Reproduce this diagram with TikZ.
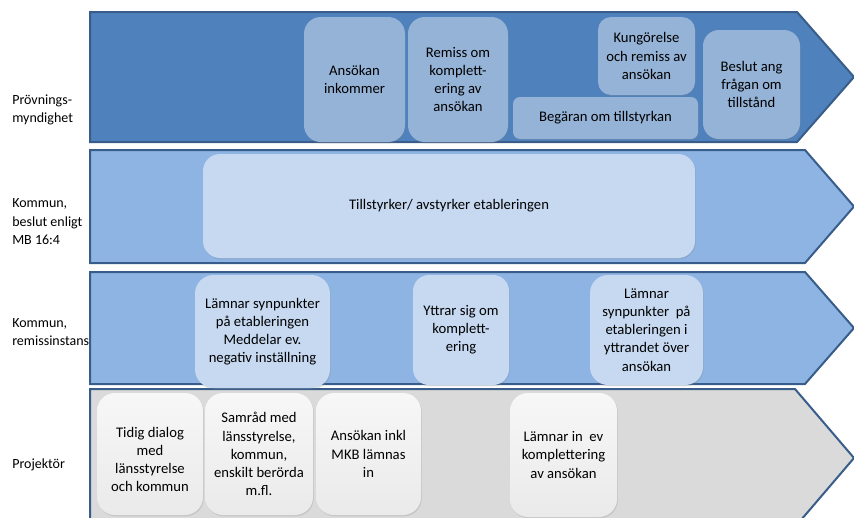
\documentclass[tikz,border=0pt]{standalone}
\usepackage{fontspec}
\setmainfont{Carlito}
\usetikzlibrary{shadows}
\definecolor{edgeblue}{HTML}{385D8A}
\definecolor{lanedark}{HTML}{4F81BD}
\definecolor{lanelight}{HTML}{8EB4E3}
\definecolor{lanegray}{HTML}{DADADA}
\definecolor{boxdark}{HTML}{95B3D7}
\definecolor{boxlight}{HTML}{C6D9F1}
\definecolor{boxgraytop}{HTML}{F7F7F7}
\definecolor{boxgraybot}{HTML}{EAEAEA}
\begin{document}
\begin{tikzpicture}[x=0.75pt,y=-0.75pt,
  lane/.style={draw=edgeblue, line width=1.5pt, line join=miter},
  stepbox/.style={align=center, inner sep=2pt, text=black,
    font=\fontsize{11}{13.6}\selectfont,
    drop shadow={opacity=0.22, shadow xshift=0.6pt, shadow yshift=-1pt}},
  darkbox/.style={stepbox, fill=boxdark},
  lightbox/.style={stepbox, fill=boxlight},
  graybox/.style={stepbox, top color=boxgraytop, bottom color=boxgraybot},
  lanelabel/.style={anchor=west, align=left, inner sep=0pt,
    font=\fontsize{10.5}{13.9}\selectfont}]
\useasboundingbox (0,0) rectangle (854,518);
\clip (0,0) rectangle (854,518);

% lanes
\draw[lane, fill=lanedark]  (90,12)  -- (797,12)  -- (854,77)    -- (797,142) -- (90,142) -- cycle;
\draw[lane, fill=lanelight] (90,150) -- (805,150) -- (854,206.5) -- (805,263) -- (90,263) -- cycle;
\draw[lane, fill=lanelight] (90,272) -- (805,272) -- (854,328)   -- (805,384) -- (90,384) -- cycle;
\draw[lane, fill=lanegray]  (90,389) -- (795,389) -- (854,458)   -- (795,527) -- (90,527) -- cycle;

% lane labels
\node[lanelabel] (l1) at (12,110) {Prövnings-\\myndighet};
\node[lanelabel] (l2) at (12,222) {Kommun,\\beslut enligt\\MB 16:4};
\node[lanelabel] (l3) at (12,332) {Kommun,\\remissinstans};
\node[lanelabel] (l4) at (12,465) {Projektör};

% row 1
\node[darkbox, minimum width=75.75pt, minimum height=93.75pt, rounded corners=12.6pt] (a1) at (354.5,79.5) {Ansökan\\inkommer};
\node[darkbox, minimum width=75pt, minimum height=93.75pt, rounded corners=12.5pt] (a2) at (458,79.5) {Remiss om\\komplett-\\ering av\\ansökan};
\node[darkbox, minimum width=72.75pt, minimum height=58.5pt, rounded corners=9.75pt] (a3) at (646.5,56) {Kungörelse\\och remiss av\\ansökan};
\node[darkbox, minimum width=138.75pt, minimum height=31.5pt, rounded corners=5.25pt] (a4) at (605.5,118) {Begäran om tillstyrkan};
\node[darkbox, minimum width=72.75pt, minimum height=81.75pt, rounded corners=12pt] (a5) at (751.5,84.5) {Beslut ang\\frågan om\\tillstånd};

% row 2
\node[lightbox, minimum width=369pt, minimum height=78pt, rounded corners=12.75pt] (b1) at (449,206) {Tillstyrker/ avstyrker etableringen};

% row 3
\node[lightbox, minimum width=101.25pt, minimum height=84.75pt, rounded corners=14pt] (c1) at (262.5,331.5) {Lämnar synpunkter\\på etableringen\\Meddelar ev.\\negativ inställning};
\node[lightbox, minimum width=72pt, minimum height=82.5pt, rounded corners=12pt] (c2) at (461,330) {Yttrar sig om\\komplett-\\ering};
\node[lightbox, minimum width=84.75pt, minimum height=82.5pt, rounded corners=13.5pt] (c3) at (646.5,330) {Lämnar\\synpunkter~ på\\etableringen i\\yttrandet över\\ansökan};

% row 4
\node[graybox, minimum width=79.5pt, minimum height=91.5pt, rounded corners=13.5pt] (d1) at (150,454) {\raisebox{-5pt}[\height][\depth]{\begin{tabular}{@{}c@{}}Tidig dialog\\med\\länsstyrelse\\och kommun\end{tabular}}};
\node[graybox, minimum width=81pt, minimum height=91.5pt, rounded corners=13.5pt] (d2) at (259,454) {Samråd med\\länsstyrelse,\\kommun,\\enskilt berörda\\m.fl.};
\node[graybox, minimum width=78.75pt, minimum height=91.5pt, rounded corners=13.5pt] (d3) at (368.5,454) {Ansökan inkl\\MKB lämnas\\in};
\node[graybox, minimum width=80.25pt, minimum height=93pt, rounded corners=13.5pt] (d4) at (563.5,455) {Lämnar in~ ev\\komplettering\\av ansökan};
\end{tikzpicture}
\end{document}
